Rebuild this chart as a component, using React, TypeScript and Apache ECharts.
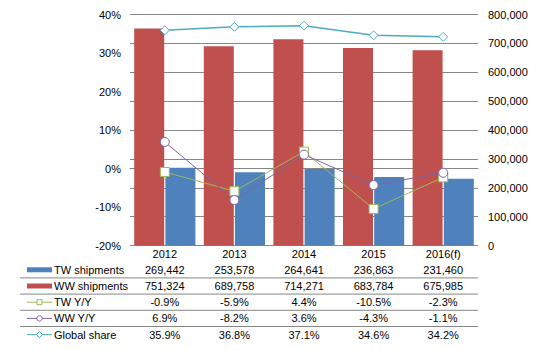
import React, { useEffect, useRef } from "react";
import * as echarts from "echarts";

const categories = ["2012", "2013", "2014", "2015", "2016(f)"];
const twShipments = [269442, 253578, 264641, 236863, 231460];
const wwShipments = [751324, 689758, 714271, 683784, 675985];
const twYoY = [-0.9, -5.9, 4.4, -10.5, -2.3];
const wwYoY = [6.9, -8.2, 3.6, -4.3, -1.1];
const globalShare = [35.9, 36.8, 37.1, 34.6, 34.2];

const seriesNames = ["TW shipments", "WW shipments", "TW Y/Y", "WW Y/Y", "Global share"];

const BLUE = "#4F81BD";
const RED = "#C0504D";
const GREEN = "#9BBB59";
const PURPLE = "#8064A2";
const CYAN = "#4BACC6";
const GRID = "#868686";
const FONT = "'Liberation Sans', Arial, sans-serif";

const fmtNum = (v: number) => v.toLocaleString("en-US");
const fmtPct = (v: number) => v.toFixed(1) + "%";

const AXIS_Y = 245.5;
const ROW_H = 16.2;

export default function App() {
  const ref = useRef<HTMLDivElement>(null);

  useEffect(() => {
    if (!ref.current) return;
    const chart = echarts.init(ref.current, undefined, { renderer: "svg" });

    const rowCenter = (r: number) => AXIS_Y + ROW_H * (r + 1) + ROW_H / 2;
    const graphics: any[] = [];
    // separators
    for (let r = 1; r < 5; r++) {
      const y = AXIS_Y + ROW_H * (r + 1);
      graphics.push({
        type: "line",
        shape: { x1: 20, y1: y, x2: 478, y2: y },
        style: { stroke: GRID, lineWidth: 1 },
        silent: true,
      });
    }
    const keyColors = [BLUE, RED, GREEN, PURPLE, CYAN];
    seriesNames.forEach((name, r) => {
      const cy = rowCenter(r);
      const color = keyColors[r];
      if (r < 2) {
        graphics.push({
          type: "rect",
          shape: { x: 27, y: cy - 2.5, width: 25, height: 5 },
          style: { fill: color },
        });
      } else {
        graphics.push({
          type: "line",
          shape: { x1: 27, y1: cy, x2: 52, y2: cy },
          style: { stroke: color, lineWidth: 1 },
        });
        if (r === 2) {
          graphics.push({
            type: "rect",
            shape: { x: 37, y: cy - 2.5, width: 5, height: 5 },
            style: { fill: "#fff", stroke: color, lineWidth: 1 },
          });
        } else if (r === 3) {
          graphics.push({
            type: "circle",
            shape: { cx: 39.5, cy, r: 2.7 },
            style: { fill: "#fff", stroke: color, lineWidth: 1 },
          });
        } else {
          graphics.push({
            type: "polygon",
            shape: {
              points: [
                [39.5, cy - 3],
                [42.5, cy],
                [39.5, cy + 3],
                [36.5, cy],
              ],
            },
            style: { fill: "#fff", stroke: color, lineWidth: 1 },
          });
        }
      }
      graphics.push({
        type: "text",
        x: 54,
        y: cy,
        style: {
          text: name,
          fill: "#000",
          font: `11px ${FONT}`,
          verticalAlign: "middle",
          align: "left",
        },
      });
    });

    const lineSeries = (name: string, data: number[], color: string, symbol: string, size: number, width: number) => ({
      name,
      type: "line",
      yAxisIndex: 0,
      data,
      symbol,
      symbolSize: size,
      showAllSymbol: true,
      z: 5,
      lineStyle: { color, width },
      itemStyle: { color: "#fff", borderColor: color, borderWidth: 1 },
    });

    chart.setOption({
      animation: false,
      textStyle: { fontFamily: FONT },
      grid: { left: 130, right: 61, top: 14.5, bottom: 350 - AXIS_Y, containLabel: false },
      xAxis: {
        type: "category",
        data: categories,
        axisLine: { show: true, lineStyle: { color: GRID, width: 1 } },
        axisTick: { show: false },
        splitLine: { show: false },
        axisLabel: {
          interval: 0,
          margin: 0,
          fontSize: 11,
          color: "#000",
          lineHeight: ROW_H,
          fontFamily: FONT,
          formatter: (v: string, i: number) =>
            [
              v,
              fmtNum(twShipments[i]),
              fmtNum(wwShipments[i]),
              fmtPct(twYoY[i]),
              fmtPct(wwYoY[i]),
              fmtPct(globalShare[i]),
            ].join("\n"),
        },
      },
      yAxis: [
        {
          type: "value",
          min: -20,
          max: 40,
          interval: 10,
          position: "left",
          axisLine: { show: false },
          axisTick: { show: false },
          splitLine: { show: false },
          axisLabel: {
            margin: 9,
            fontSize: 11,
            color: "#000",
            fontFamily: FONT,
            formatter: (v: number) => v + "%",
          },
        },
        {
          type: "value",
          min: 0,
          max: 800000,
          interval: 100000,
          position: "right",
          axisLine: { show: false },
          axisTick: { show: false },
          splitLine: { show: true, lineStyle: { color: GRID, width: 1 } },
          axisLabel: {
            margin: 10,
            fontSize: 11,
            color: "#000",
            fontFamily: FONT,
            formatter: (v: number) => fmtNum(v),
          },
        },
      ],
      series: [
        {
          name: "WW shipments",
          type: "bar",
          yAxisIndex: 1,
          data: wwShipments,
          barWidth: 30,
          barGap: "4%",
          itemStyle: { color: RED },
          z: 2,
        },
        {
          name: "TW shipments",
          type: "bar",
          yAxisIndex: 1,
          data: twShipments,
          barWidth: 30,
          barGap: "4%",
          itemStyle: { color: BLUE },
          z: 2,
        },
        lineSeries("TW Y/Y", twYoY, GREEN, "rect", 9, 1),
        lineSeries("WW Y/Y", wwYoY, PURPLE, "circle", 9, 1),
        lineSeries("Global share", globalShare, CYAN, "diamond", 9, 1.5),
      ],
      graphic: graphics,
    });

    return () => chart.dispose();
  }, []);

  return (
    <div
      ref={ref}
      style={{ position: "fixed", left: 0, top: 0, width: 539, height: 350, background: "#fff" }}
    />
  );
}
